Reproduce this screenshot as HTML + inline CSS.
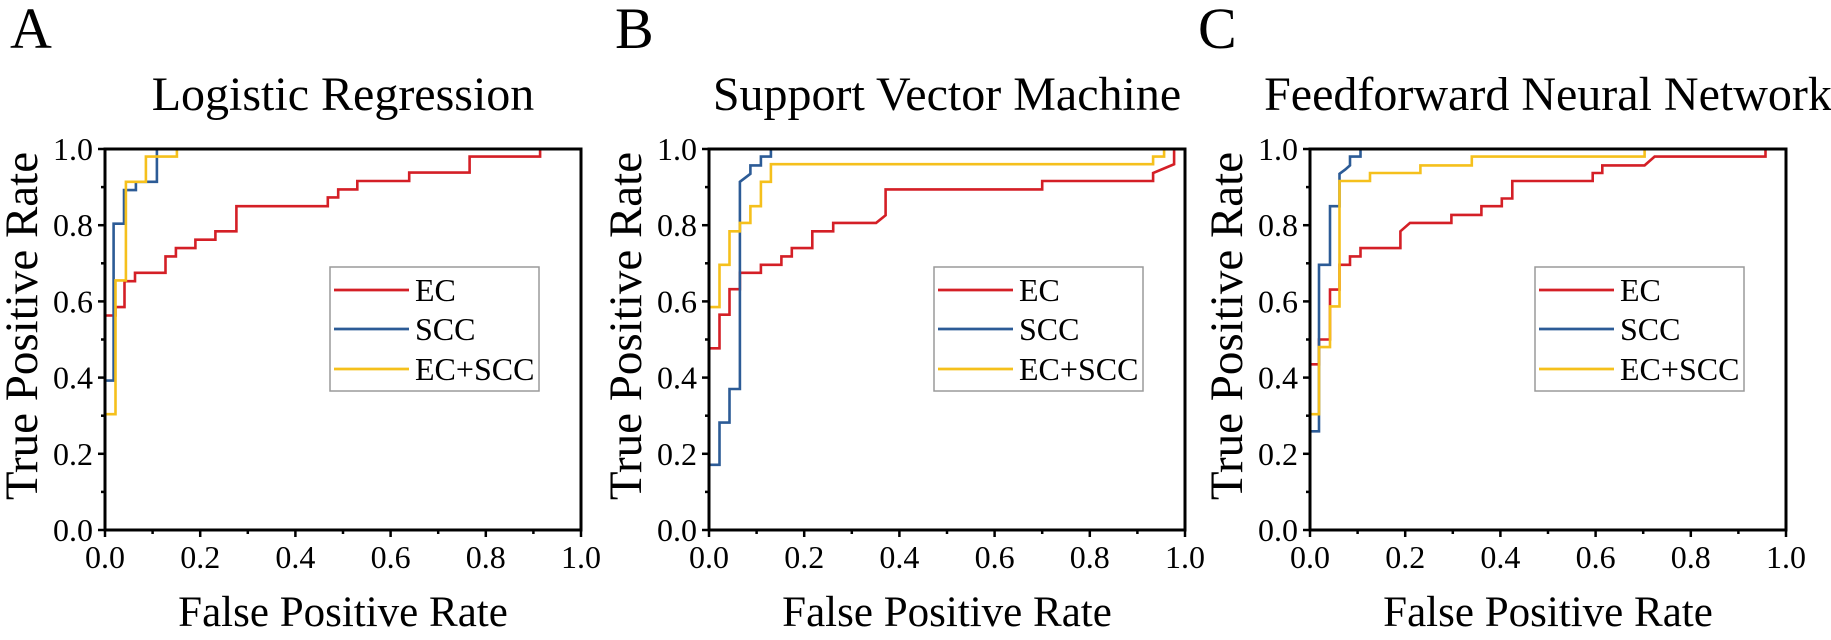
<!DOCTYPE html>
<html><head><meta charset="utf-8">
<style>
html,body{margin:0;padding:0;background:#fff;}
svg text{font-family:"Liberation Serif","Times New Roman",serif;fill:#000;}
</style></head>
<body>
<svg id="fig" width="1831" height="635" viewBox="0 0 1831 635" xmlns="http://www.w3.org/2000/svg"></svg>
<script>
// ---- data (FPR, TPR pairs as step points) ----
const panelLetters = ["A", "B", "C"];
const panelTitles = ["Logistic Regression", "Support Vector Machine", "Feedforward Neural Network"];
const seriesNames = ["EC", "SCC", "EC+SCC"];
const tickLabels = ["0.0", "0.2", "0.4", "0.6", "0.8", "1.0"];
const tickValues = [0, 0.2, 0.4, 0.6, 0.8, 1.0];

const lrEC_fpr = [0, 0, 0.022, 0.022, 0.041, 0.041, 0.063, 0.063, 0.127, 0.127, 0.149, 0.149, 0.19, 0.19, 0.232, 0.232, 0.276, 0.276, 0.468, 0.468, 0.49, 0.49, 0.53, 0.53, 0.639, 0.639, 0.766, 0.766, 0.914, 0.914];
const lrEC_tpr = [0, 0.563, 0.563, 0.585, 0.585, 0.653, 0.653, 0.675, 0.675, 0.718, 0.718, 0.74, 0.74, 0.762, 0.762, 0.784, 0.784, 0.85, 0.85, 0.873, 0.873, 0.894, 0.894, 0.916, 0.916, 0.938, 0.938, 0.98, 0.98, 1.0];
const lrSCC_fpr = [0, 0, 0.018, 0.018, 0.04, 0.04, 0.065, 0.065, 0.109, 0.109];
const lrSCC_tpr = [0, 0.392, 0.392, 0.804, 0.804, 0.892, 0.892, 0.914, 0.914, 1.0];
const lrALL_fpr = [0, 0, 0.022, 0.022, 0.044, 0.044, 0.086, 0.086, 0.151, 0.151];
const lrALL_tpr = [0, 0.304, 0.304, 0.655, 0.655, 0.914, 0.914, 0.98, 0.98, 1.0];

const svmEC_fpr = [0, 0, 0.022, 0.022, 0.043, 0.043, 0.065, 0.065, 0.109, 0.109, 0.152, 0.152, 0.174, 0.174, 0.217, 0.217, 0.261, 0.261, 0.351, 0.371, 0.371, 0.70, 0.70, 0.933, 0.933, 0.977, 0.977];
const svmEC_tpr = [0, 0.477, 0.477, 0.565, 0.565, 0.632, 0.632, 0.675, 0.675, 0.696, 0.696, 0.718, 0.718, 0.74, 0.74, 0.784, 0.784, 0.806, 0.806, 0.826, 0.894, 0.894, 0.916, 0.916, 0.937, 0.96, 1.0];
const svmSCC_fpr = [0, 0, 0.022, 0.022, 0.043, 0.043, 0.065, 0.065, 0.087, 0.087, 0.109, 0.109, 0.13, 0.13];
const svmSCC_tpr = [0, 0.171, 0.171, 0.282, 0.282, 0.37, 0.37, 0.914, 0.935, 0.957, 0.957, 0.98, 0.98, 1.0];
const svmALL_fpr = [0, 0, 0.022, 0.022, 0.043, 0.043, 0.065, 0.065, 0.087, 0.087, 0.109, 0.109, 0.13, 0.13, 0.933, 0.933, 0.956, 0.956];
const svmALL_tpr = [0, 0.585, 0.585, 0.696, 0.696, 0.784, 0.784, 0.806, 0.806, 0.85, 0.85, 0.914, 0.914, 0.96, 0.96, 0.98, 0.98, 1.0];

const nnEC_fpr = [0, 0, 0.019, 0.019, 0.042, 0.042, 0.062, 0.062, 0.084, 0.084, 0.106, 0.106, 0.19, 0.19, 0.21, 0.297, 0.297, 0.36, 0.36, 0.403, 0.403, 0.425, 0.425, 0.594, 0.594, 0.614, 0.614, 0.703, 0.724, 0.957, 0.957];
const nnEC_tpr = [0, 0.435, 0.435, 0.5, 0.5, 0.631, 0.631, 0.696, 0.696, 0.718, 0.718, 0.74, 0.74, 0.784, 0.806, 0.806, 0.827, 0.827, 0.85, 0.85, 0.87, 0.87, 0.916, 0.916, 0.937, 0.937, 0.957, 0.957, 0.98, 0.98, 1.0];
const nnSCC_fpr = [0, 0, 0.019, 0.019, 0.042, 0.042, 0.062, 0.062, 0.074, 0.084, 0.084, 0.106, 0.106];
const nnSCC_tpr = [0, 0.259, 0.259, 0.696, 0.696, 0.85, 0.85, 0.935, 0.946, 0.957, 0.98, 0.98, 1.0];
const nnALL_fpr = [0, 0, 0.019, 0.019, 0.042, 0.042, 0.062, 0.062, 0.126, 0.126, 0.232, 0.232, 0.34, 0.34, 0.703, 0.703];
const nnALL_tpr = [0, 0.304, 0.304, 0.48, 0.48, 0.587, 0.587, 0.916, 0.916, 0.937, 0.937, 0.957, 0.957, 0.98, 0.98, 1.0];

const panelSeries = [
  [[lrEC_fpr, lrEC_tpr], [lrSCC_fpr, lrSCC_tpr], [lrALL_fpr, lrALL_tpr]],
  [[svmEC_fpr, svmEC_tpr], [svmSCC_fpr, svmSCC_tpr], [svmALL_fpr, svmALL_tpr]],
  [[nnEC_fpr, nnEC_tpr], [nnSCC_fpr, nnSCC_tpr], [nnALL_fpr, nnALL_tpr]]
];

// ---- layout ----
const colors = ["#d41f26", "#2c5b96", "#f5c01c"];
const plotLefts = [105, 709, 1310];
const letterX = [10, 615, 1198];
const plotW = 476, plotTop = 149, plotBottom = 530;
const NS = "http://www.w3.org/2000/svg";
const svg = document.getElementById("fig");

function mk(tag, attrs, parent) {
  const e = document.createElementNS(NS, tag);
  for (const k in attrs) e.setAttribute(k, attrs[k]);
  (parent || svg).appendChild(e);
  return e;
}

for (let p = 0; p < 3; p++) {
  const L = plotLefts[p];
  const xs = v => L + v * plotW;
  const ys = v => plotBottom - v * (plotBottom - plotTop);
  const g = mk("g", {});
  
  

  const letter = mk("text", {x: letterX[p], y: 48, "font-size": 58}, g);
  letter.textContent = panelLetters[p];
  
  

  const title = mk("text", {x: L + plotW / 2, y: 110, "font-size": 48, "text-anchor": "middle"}, g);
  title.textContent = panelTitles[p];
  
  

  // series
  for (let s = 0; s < 3; s++) {
    const fx = panelSeries[p][s][0], fy = panelSeries[p][s][1];
    let d = "";
    for (let i = 0; i < fx.length; i++) d += (i ? "L" : "M") + xs(fx[i]).toFixed(1) + " " + ys(fy[i]).toFixed(1);
    const path = mk("path", {d: d, fill: "none", stroke: colors[s], "stroke-width": 2.6, "stroke-linejoin": "miter"}, g);
    
    
  }

  // frame
  const frame = mk("rect", {x: L, y: plotTop, width: plotW, height: plotBottom - plotTop, fill: "none", stroke: "#000", "stroke-width": 3}, g);
  
  

  // ticks
  for (let i = 0; i <= 10; i++) {
    const v = i / 10, len = (i % 2 === 0) ? 7 : 4;
    const tx = mk("line", {x1: xs(v), x2: xs(v), y1: plotBottom, y2: plotBottom + len, stroke: "#000", "stroke-width": 2.5}, g);
    
    
    const ty = mk("line", {x1: L - len, x2: L, y1: ys(v), y2: ys(v), stroke: "#000", "stroke-width": 2.5}, g);
    
    
  }
  for (let i = 0; i < tickValues.length; i++) {
    const xl = mk("text", {x: xs(tickValues[i]), y: 568, "font-size": 32, "text-anchor": "middle"}, g);
    xl.textContent = tickLabels[i];
    
    
    const yl = mk("text", {x: L - 12, y: ys(tickValues[i]) + 11, "font-size": 32, "text-anchor": "end"}, g);
    yl.textContent = tickLabels[i];
    
    
  }

  const xt = mk("text", {x: L + plotW / 2, y: 626, "font-size": 43, "text-anchor": "middle"}, g);
  xt.textContent = "False Positive Rate";
  
  
  const cy = 326, cx = L - 68;
  const yt = mk("text", {x: cx, y: cy, "font-size": 47, "text-anchor": "middle", transform: "rotate(-90 " + cx + " " + cy + ")"}, g);
  yt.textContent = "True Positive Rate";
  
  

  // legend
  const lg = mk("g", {}, g);
  
  
  const bx = mk("rect", {x: L + 225, y: 267, width: 209, height: 124, fill: "#fff", stroke: "#9a9a9a", "stroke-width": 1.5}, lg);
  
  
  const ey = [290, 329, 369];
  for (let s = 0; s < 3; s++) {
    const ln = mk("line", {x1: L + 229, x2: L + 304, y1: ey[s], y2: ey[s], stroke: colors[s], "stroke-width": 2.8}, lg);
    
    
    const lt = mk("text", {x: L + 310, y: ey[s] + 11, "font-size": 32}, lg);
    lt.textContent = seriesNames[s];
    
    
  }
}
</script>
</body></html>
